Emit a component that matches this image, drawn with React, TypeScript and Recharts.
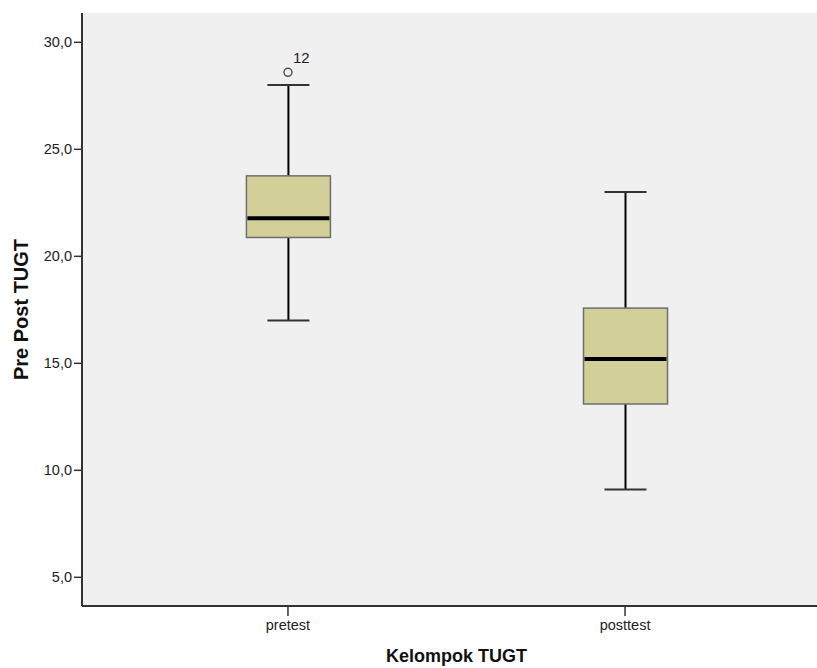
import React from 'react';
import {
  ComposedChart,
  Bar,
  Scatter,
  XAxis,
  YAxis,
  CartesianGrid,
} from 'recharts';

const categories = ['pretest', 'posttest'];
const minValues = [17.0, 9.1];
const q1Values = [20.88, 13.1];
const medianValues = [21.78, 15.2];
const q3Values = [23.76, 17.58];
const maxValues = [28.0, 23.0];

const outlierCategory = ['pretest'];
const outlierValues = [28.6];
const outlierIds = ['12'];

const yTicks = [5, 10, 15, 20, 25, 30];

const FONT = '"Liberation Sans", Arial, sans-serif';
const BOX_FILL = '#D3CF98';

const data = categories.map((name, i) => ({
  name,
  pos: i + 1,
  min: minValues[i],
  q1: q1Values[i],
  median: medianValues[i],
  q3: q3Values[i],
  max: maxValues[i],
}));

const outliers = outlierValues.map((value, i) => ({
  pos: categories.indexOf(outlierCategory[i]) + 1,
  value,
  id: outlierIds[i],
}));

const fmt = (v: number) => v.toFixed(1).replace('.', ',');

// bar spans [min, max]; everything else is placed on that same scale
function BoxShape(props: any) {
  const { x, y, width, height, payload } = props;
  if (x == null || y == null) return null;
  const top = Math.min(y, y + height);
  const bottom = Math.max(y, y + height);
  const px = (bottom - top) / (payload.max - payload.min);
  const yOf = (v: number) => bottom - (v - payload.min) * px;
  const cx = x + width / 2;
  const cap = width / 4;
  const yQ1 = yOf(payload.q1);
  const yQ3 = yOf(payload.q3);
  const yMed = yOf(payload.median);
  return (
    <g>
      <line x1={cx} x2={cx} y1={top} y2={yQ3} stroke="#000" strokeWidth={2} />
      <line x1={cx} x2={cx} y1={yQ1} y2={bottom} stroke="#000" strokeWidth={2} />
      <line x1={cx - cap} x2={cx + cap} y1={top} y2={top} stroke="#333" strokeWidth={2} />
      <line x1={cx - cap} x2={cx + cap} y1={bottom} y2={bottom} stroke="#333" strokeWidth={2} />
      <rect x={x} y={yQ3} width={width} height={yQ1 - yQ3} fill={BOX_FILL} stroke="#6E6E6E" strokeWidth={1.5} />
      <line x1={x + 1} x2={x + width - 1} y1={yMed} y2={yMed} stroke="#000" strokeWidth={4} />
    </g>
  );
}

function OutlierShape(props: any) {
  const { cx, cy, payload } = props;
  return (
    <g>
      <circle cx={cx} cy={cy} r={4} fill="none" stroke="#555" strokeWidth={1.5} />
      <text x={cx + 5} y={cy - 9} fontSize={15} fontFamily={FONT} fill="#222">
        {payload.id}
      </text>
    </g>
  );
}

export default function App() {
  return (
    <div style={{ position: 'absolute', left: 0, top: 0, width: 817, height: 668, overflow: 'hidden', background: '#fff' }}>
      <ComposedChart width={835} height={668} data={data} margin={{ top: 13, right: 4, bottom: 0, left: 0 }}>
        <CartesianGrid fill="#F0F0F0" horizontal={false} vertical={false} />
        <XAxis
          xAxisId="top"
          orientation="top"
          type="number"
          domain={[0.389, 2.611]}
          allowDataOverflow
          tick={false}
          tickLine={false}
          height={0}
          axisLine={{ stroke: '#8A8A8A', strokeWidth: 2 }}
        />
        <XAxis
          type="number"
          dataKey="pos"
          domain={[0.389, 2.611]}
          allowDataOverflow
          ticks={[1, 2]}
          tickFormatter={(v: number) => categories[v - 1]}
          height={62}
          tickSize={10}
          tickMargin={4}
          tick={{ fontSize: 14.5, fill: '#222', fontFamily: FONT }}
          tickLine={{ stroke: '#333', strokeWidth: 1.5 }}
          axisLine={{ stroke: '#333', strokeWidth: 2 }}
          label={{
            content: (p: any) => {
              const vb = p.viewBox;
              return (
                <text x={vb.x + vb.width / 2} y={vb.y + 56} textAnchor="middle" fontSize={18} fontWeight="bold" fontFamily={FONT} fill="#111">
                  Kelompok TUGT
                </text>
              );
            },
          }}
        />
        <YAxis
          type="number"
          domain={[3.66, 31.37]}
          allowDataOverflow
          ticks={yTicks}
          tickFormatter={fmt}
          width={82}
          tickSize={8}
          tickMargin={2}
          tick={{ fontSize: 14.5, fill: '#222', fontFamily: FONT }}
          tickLine={{ stroke: '#333', strokeWidth: 1.5 }}
          axisLine={{ stroke: '#333', strokeWidth: 2 }}
          label={{
            content: (p: any) => {
              const vb = p.viewBox;
              const cy = vb.y + vb.height / 2;
              return (
                <text x={28} y={cy} transform={`rotate(-90, 28, ${cy})`} textAnchor="middle" fontSize={20} fontWeight="bold" fontFamily={FONT} fill="#111">
                  Pre Post TUGT
                </text>
              );
            },
          }}
        />
        <Bar
          dataKey={(d: any) => [d.min, d.max]}
          barSize={84}
          shape={BoxShape}
          isAnimationActive={false}
        />
        <Scatter data={outliers} dataKey="value" shape={OutlierShape} isAnimationActive={false} />
      </ComposedChart>
    </div>
  );
}
